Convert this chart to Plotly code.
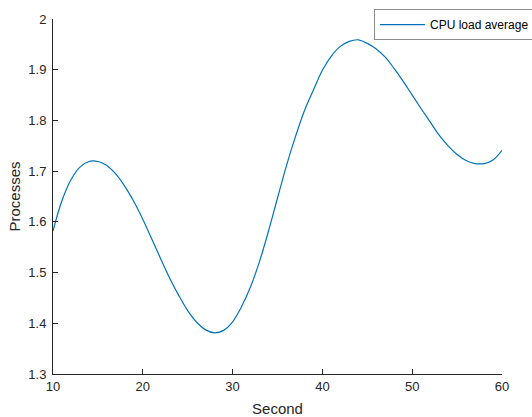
import plotly.graph_objects as go

seconds = list(range(10, 61))
load_avg = [
    1.582, 1.642, 1.683, 1.708, 1.719, 1.719, 1.711, 1.694, 1.670, 1.640,
    1.605, 1.566, 1.527, 1.489, 1.455, 1.425, 1.402, 1.387, 1.381, 1.386,
    1.403, 1.433, 1.472, 1.522, 1.582, 1.647, 1.711, 1.768, 1.819, 1.860,
    1.899, 1.927, 1.946, 1.956, 1.959, 1.952, 1.941, 1.925, 1.902, 1.877,
    1.850, 1.823, 1.797, 1.771, 1.750, 1.733, 1.721, 1.715, 1.715, 1.722,
    1.741,
]
x_ticks = [10, 20, 30, 40, 50, 60]
y_ticks = [1.3, 1.4, 1.5, 1.6, 1.7, 1.8, 1.9, 2.0]
y_tick_labels = ["1.3", "1.4", "1.5", "1.6", "1.7", "1.8", "1.9", "2"]

txt = "#262626"
font = "Liberation Sans, Arial, Helvetica, sans-serif"

fig = go.Figure()
fig.add_trace(go.Scatter(
    x=seconds, y=load_avg, mode="lines", name="CPU load average",
    line=dict(color="#0072BD", width=1.2, shape="spline", smoothing=1.0),
))

fig.update_layout(
    width=532, height=417,
    margin=dict(l=53, r=30, t=19, b=43, autoexpand=False),
    paper_bgcolor="white", plot_bgcolor="white",
    font=dict(family=font, size=13, color=txt),
    showlegend=True,
    legend=dict(
        xref="container", yref="container",
        x=0.703, y=0.978, xanchor="left", yanchor="top",
        bordercolor="#8c8c8c", borderwidth=1, bgcolor="white",
        font=dict(family=font, size=12, color="#000000"),
        itemwidth=45, tracegroupgap=0,
    ),
    xaxis=dict(
        range=[10, 60], tickvals=x_ticks, showgrid=False, zeroline=False,
        showline=True, linecolor=txt, linewidth=1, mirror=False,
        ticks="inside", ticklen=5, tickcolor=txt, tickwidth=1,
        automargin=False,
        title=dict(text="Second", font=dict(size=15, color=txt), standoff=10),
        tickfont=dict(size=13, color=txt),
    ),
    yaxis=dict(
        range=[1.3, 2.0], tickvals=y_ticks, ticktext=y_tick_labels,
        showgrid=False, zeroline=False,
        showline=True, linecolor=txt, linewidth=1, mirror=False,
        ticks="inside", ticklen=5, tickcolor=txt, tickwidth=1,
        automargin=False, ticklabelstandoff=3,
        title=dict(text="Processes", font=dict(size=15, color=txt), standoff=4),
        tickfont=dict(size=13, color=txt),
    ),
)

fig.write_html(
    "out.html",
    config={"displayModeBar": False},
    post_script="document.body.style.margin='0';document.body.style.overflow='hidden';",
)
